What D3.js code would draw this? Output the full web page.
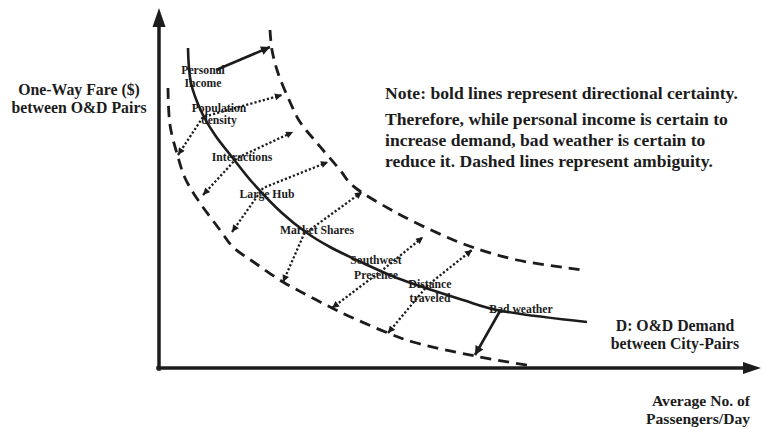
<!DOCTYPE html>
<html><head><meta charset="utf-8">
<script src="https://cdn.jsdelivr.net/npm/d3@7"></script>
<style>
body{margin:0;background:#fff}
svg text{font-family:"Liberation Serif","Times New Roman",serif;font-weight:bold;fill:#1c1c1c}
</style>
</head><body>
<svg id="c" width="762" height="428"></svg>
<script>
// Conceptual units: demand (x) vs fare (y)
const demandCurve = [[29,320],[32,285],[43,255],[56,233],[73,211],[93,186],[123,155],[148,135],[171,121],[204,105],[238,90],[304,68],[338,58],[428,46]];
const upperCurve = [[111,338],[113,318],[119,295],[131,266],[141,246],[158,225],[181,198],[193,183],[236,156],[283,133],[313,121],[358,108],[424,98]];
const lowerCurve = [[9,280],[11,243],[19,211],[26,190],[39,168],[61,138],[74,121],[96,105],[124,86],[148,73],[173,60],[194,50],[229,35],[254,26],[316,12],[373,2]];

// ambiguous factors: [toward lower curve, on demand curve, toward upper curve]
const factorNames = ["Population density","Interactions","Large Hub","Market Shares","Southwest Presence","Distance traveled"];
const factorPaths = [
  [[19,213],[44,251],[123,273]],
  [[44,173],[78,210],[134,236]],
  [[73,136],[104,180],[169,206]],
  [[124,86],[145,134],[203,176]],
  [[173,60],[226,100],[264,131]],
  [[229,35],[269,83],[313,118]]
];
// certain factors
const certainNames = ["Personal Income","Bad weather"];
const certainPaths = [
  [[57,298],[111,321]],
  [[341,57],[316,13]]
];

const labelLines = [["Personal","Income"],["Population","density"],["Interactions"],["Large Hub"],["Market Shares"],["Southwest","Presence"],["Distance","traveled"],["Bad weather"]];
const yTitle = ["One-Way Fare ($)","between O&D Pairs"];
const xTitle = ["Average No. of","Passengers/Day"];
const curveTitle = ["D: O&D Demand","between City-Pairs"];
const noteLines = ["Note: bold lines represent directional certainty.","Therefore, while personal income is certain to","increase demand, bad weather is certain to","reduce it. Dashed lines represent ambiguity."];

// layout (pixels)
const labelPos = [[203,[70,83]],[219,[108,120]],[242,[157]],[267,[194]],[317,[230]],[376,[260,275]],[430,[284,298]],[521,[309]]];

const svg = d3.select("#c");
const x = d3.scaleLinear().domain([0,600]).range([159,759]);
const y = d3.scaleLinear().domain([0,360]).range([368,8]);
const ink = "#1c1c1c";

const defs = svg.append("defs");
function marker(id, w, h){
  defs.append("marker").attr("id",id).attr("viewBox","0 0 10 10")
    .attr("refX",10).attr("refY",5).attr("markerUnits","userSpaceOnUse")
    .attr("markerWidth",w).attr("markerHeight",h).attr("orient","auto-start-reverse")
    .append("path").attr("d","M0,0L10,5L0,10Z").attr("fill",ink);
}
marker("aSolid",11,9);
marker("aDot",8,7);

// axes
const xAxis = d3.axisBottom(x).ticks(0).tickSizeOuter(0);
const yAxis = d3.axisLeft(y).ticks(0).tickSizeOuter(0);
const gx = svg.append("g").attr("transform",`translate(0,${y(0)})`).call(xAxis);
const gy = svg.append("g").attr("transform",`translate(${x(0)},0)`).call(yAxis);
[gx,gy].forEach(g=>g.select(".domain").attr("stroke",ink).attr("stroke-width",3.5).attr("stroke-linecap","square"));
gx.select(".domain").attr("d",`M${x(-1)},0H${x(590)}`);
gy.select(".domain").attr("d",`M0,${y(-1)}V${y(345)}`);
// axis arrowheads
svg.append("path").attr("d",`M${x(0)-6.5},${y(341)}L${x(0)},${y(360)}L${x(0)+6.5},${y(341)}Z`).attr("fill",ink);
svg.append("path").attr("d",`M${x(584)},${y(0)-6}L${x(602)},${y(0)}L${x(584)},${y(0)+6}Z`).attr("fill",ink);

const line = d3.line().x(d=>x(d[0])).y(d=>y(d[1])).curve(d3.curveCatmullRom.alpha(0.5));
const poly = d3.line().x(d=>x(d[0])).y(d=>y(d[1]));

svg.append("path").attr("d",line(upperCurve)).attr("fill","none").attr("stroke",ink)
  .attr("stroke-width",2.8).attr("stroke-dasharray","11,7");
svg.append("path").attr("d",line(lowerCurve)).attr("fill","none").attr("stroke",ink)
  .attr("stroke-width",2.8).attr("stroke-dasharray","11,7");
svg.append("path").attr("d",line(demandCurve)).attr("fill","none").attr("stroke",ink)
  .attr("stroke-width",2.6);

svg.selectAll("path.factor").data(factorPaths).join("path").attr("class","factor")
  .attr("d",poly).attr("fill","none").attr("stroke",ink).attr("stroke-width",2.3)
  .attr("stroke-dasharray","2.2,2.1")
  .attr("marker-start","url(#aDot)").attr("marker-end","url(#aDot)");

svg.selectAll("path.certain").data(certainPaths).join("path").attr("class","certain")
  .attr("d",poly).attr("fill","none").attr("stroke",ink).attr("stroke-width",2.6)
  .attr("marker-end","url(#aSolid)");

// inner labels
labelLines.forEach((ls,i)=>{
  const [cx, ys] = labelPos[i];
  ls.forEach((t,j)=>{
    svg.append("text").attr("x",cx).attr("y",ys[j]).attr("text-anchor","middle")
      .attr("dominant-baseline","central").attr("font-size",11.7).text(t);
  });
});

function block(lines, xx, ys, size, anchor){
  lines.forEach((t,j)=>svg.append("text").attr("x",xx).attr("y",ys[j]).attr("text-anchor",anchor)
    .attr("dominant-baseline","central").attr("font-size",size).text(t));
}
block(yTitle, 79, [89,107], 15.8, "middle");
block(curveTitle, 675, [325,343], 15.8, "middle");
block(xTitle, 750, [400,418], 15.6, "end");
block(noteLines, 385, [93,119,140,161], 17.6, "start");
</script>
</body></html>
